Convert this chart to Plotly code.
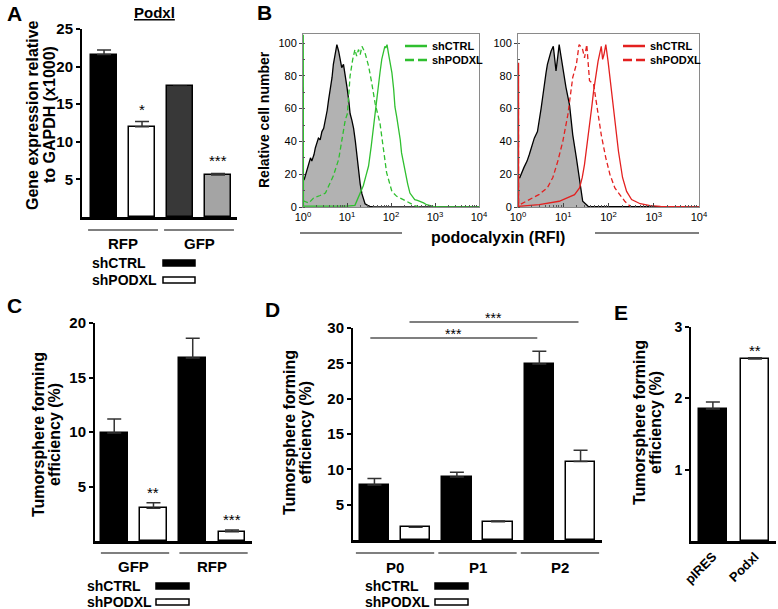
import numpy as np
import plotly.graph_objects as go

W, H = 778, 609
FONT = "Liberation Sans"

# ---------------- Panel A data ----------------
a_groups = ["RFP", "GFP"]
a_values = [21.6, 12.0, 17.4, 5.6]
a_err_top = [22.2, 12.7, 17.4, 5.8]
a_colors = ["#000000", "#ffffff", "#383838", "#a4a4a4"]
a_stars = ["", "*", "", "***"]
a_yticks = [5, 10, 15, 20, 25]

# ---------------- Panel B data (log10 RFI, relative cell number) ----------------
bl_iso_log = [0.0, 0.005, 0.03, 0.08, 0.13, 0.17, 0.2, 0.25, 0.28, 0.32, 0.35, 0.39, 0.43, 0.47,
              0.51, 0.55, 0.58, 0.62, 0.66, 0.69, 0.73, 0.77, 0.81, 0.85, 0.88, 0.92, 0.96, 1.0,
              1.04, 1.07, 1.11, 1.15, 1.19, 1.23, 1.26, 1.3, 1.34, 1.38, 1.41, 1.47, 1.52, 1.6, 4.0]
bl_iso_val = [73, 16, 17, 22, 27, 30, 28, 32, 36, 39, 42, 41, 46, 48,
              53, 59, 65, 71, 79, 87, 93, 99, 95, 89, 85, 87, 81, 73,
              65, 57, 53, 48, 40, 30, 22, 14, 8, 4, 2, 1, 0.4, 0, 0]
bl_ctrl_log = [0.006, 0.01, 0.5, 1.0, 1.18, 1.26, 1.32, 1.37, 1.43, 1.49, 1.55, 1.6, 1.64, 1.68,
               1.72, 1.75, 1.79, 1.83, 1.86, 1.88, 1.91, 1.94, 1.98, 2.02, 2.06, 2.09, 2.13, 2.17,
               2.21, 2.24, 2.28, 2.32, 2.38, 2.43, 2.49, 2.54, 2.6, 2.66, 2.74, 2.81, 2.9, 2.96, 3.1, 4.0]
bl_ctrl_val = [105, 0.5, 0.5, 0.5, 1, 6.5, 10, 13, 19, 25, 37, 49, 57, 65,
               74, 82, 90, 96, 98, 97, 99, 94, 88, 82, 72, 61, 55, 49,
               41, 33, 27, 21, 14, 8.5, 6, 4.5, 4, 3.5, 2.5, 1.4, 0.8, 0.4, 0, 0]
bl_kd_log = [0.01, 0.03, 0.13, 0.24, 0.39, 0.51, 0.58, 0.69, 0.81, 0.88, 0.96, 1.01, 1.07, 1.13,
             1.18, 1.22, 1.26, 1.3, 1.34, 1.41, 1.49, 1.56, 1.64, 1.75, 1.83, 1.9, 2.02, 2.13,
             2.28, 2.43, 2.54, 2.66]
bl_kd_val = [4, 3.5, 2.4, 5.5, 7, 8.5, 12.6, 19, 29, 41, 53, 57, 80, 90,
             96, 92, 96, 93, 98, 94, 86, 76, 63, 51, 35, 21, 9.5, 6.5,
             4.5, 2.4, 0.8, 0]

br_iso_log = [0.0, 0.04, 0.13, 0.2, 0.25, 0.3, 0.36, 0.43, 0.47, 0.51, 0.55, 0.58, 0.62, 0.65,
              0.69, 0.73, 0.78, 0.81, 0.84, 0.88, 0.91, 0.95, 0.99, 1.06, 1.14, 1.21, 1.29, 1.36,
              1.43, 1.55, 4.0]
br_iso_val = [18, 18, 24, 28, 32, 37, 42, 46, 52, 60, 68, 75, 82, 87,
              92, 95, 98, 90, 83, 92, 99, 92, 85, 73, 62, 44, 30, 16,
              3.5, 0.4, 0]
br_ctrl_log = [0.0, 0.47, 0.91, 1.1, 1.25, 1.36, 1.42, 1.47, 1.53, 1.58, 1.63, 1.67, 1.72, 1.77,
               1.84, 1.87, 1.9, 1.94, 1.99, 2.03, 2.07, 2.14, 2.22, 2.31, 2.4, 2.51, 2.7, 2.92, 3.15, 4.0]
br_ctrl_val = [0.4, 1.4, 3.5, 5.5, 7.5, 11.6, 18, 26, 38, 50, 61, 70.5, 80, 89,
               98, 90, 93, 99, 89, 80, 70, 54, 34, 18, 9.5, 4.5, 2, 0.8, 0.4, 0]
br_kd_log = [0.012, 0.012, 0.016, 0.04, 0.25, 0.47, 0.65, 0.77, 0.88, 0.99, 1.1, 1.16, 1.21, 1.29,
             1.35, 1.42, 1.47, 1.52, 1.58, 1.67, 1.75, 1.84, 1.94, 2.03, 2.14, 2.25, 2.36, 2.48]
br_kd_val = [0, 88, 2, 1.4, 4.5, 7.7, 11.8, 18, 28, 40, 56, 68, 79, 87,
             99, 97, 91, 99, 77, 75, 60, 44, 30, 20, 11.6, 7.5, 3.5, 0.4]

b_xtick_vals = [1, 10, 100, 1000, 10000]
b_xtick_text = ["10<sup>0</sup>", "10<sup>1</sup>", "10<sup>2</sup>", "10<sup>3</sup>", "10<sup>4</sup>"]
b_yticks = [0, 20, 40, 60, 80, 100]
b_series = ["shCTRL", "shPODXL"]

# ---------------- Panel C data ----------------
c_groups = ["GFP", "RFP"]
c_values = [9.9, 3.0, 16.8, 0.85]
c_err_top = [11.2, 3.5, 18.6, 1.0]
c_colors = ["#000000", "#ffffff", "#000000", "#ffffff"]
c_stars = ["", "**", "", "***"]
c_yticks = [5, 10, 15, 20]

# ---------------- Panel D data ----------------
d_groups = ["P0", "P1", "P2"]
d_values = [7.8, 1.8, 8.9, 2.6, 24.9, 11.1]
d_err_top = [8.7, 1.8, 9.6, 2.7, 26.7, 12.7]
d_colors = ["#000000", "#ffffff"] * 3
d_yticks = [5, 10, 15, 20, 25, 30]

# ---------------- Panel E data ----------------
e_labels = ["pIRES", "Podxl"]
e_values = [1.85, 2.55]
e_err_top = [1.95, 2.57]
e_colors = ["#000000", "#ffffff"]
e_stars = ["", "**"]
e_yticks = [1, 2, 3]

legend_names = ["shCTRL", "shPODXL"]

fig = go.Figure()
annotations = []
shapes = []


def xd(p0, p1):
    return [p0 / W, p1 / W]


def yd(top, bottom):
    return [1 - bottom / H, 1 - top / H]


def font(size, bold=True, color="black"):
    return dict(family=FONT, size=size, color=color, weight="bold" if bold else "normal")


def ann(text, x, y, size, bold=True, xanchor="center", yanchor="middle", angle=0,
        xref="paper", yref="paper", yshift=0):
    if xref == "paper":
        x = x / W
    if yref == "paper":
        y = 1 - y / H
    annotations.append(dict(text=text, x=x, y=y, xref=xref, yref=yref, showarrow=False,
                            xanchor=xanchor, yanchor=yanchor, textangle=angle, yshift=yshift,
                            font=font(size, bold)))


def hline(x0, x1, y, width=1.2, color="black", dash="solid", xref="paper"):
    if xref == "paper":
        x0, x1 = x0 / W, x1 / W
    shapes.append(dict(type="line", xref=xref, yref="paper", x0=x0, x1=x1,
                       y0=1 - y / H, y1=1 - y / H, line=dict(width=width, color=color, dash=dash)))


def rect(x0, x1, y0, y1, fill):
    shapes.append(dict(type="rect", xref="paper", yref="paper", x0=x0 / W, x1=x1 / W,
                       y0=1 - y1 / H, y1=1 - y0 / H, fillcolor=fill,
                       line=dict(color="black", width=1.5)))


def bars(xa, ya, values, err_top, colors, width):
    n = len(values)
    fig.add_trace(go.Bar(
        x=list(range(n)), y=values, width=width,
        marker=dict(color=colors, line=dict(color="black", width=1.5)),
        error_y=dict(type="data", symmetric=False,
                     array=[e - v for e, v in zip(err_top, values)], arrayminus=[0] * n,
                     color="#333333", thickness=1.5, width=7),
        xaxis=xa, yaxis=ya, showlegend=False, hoverinfo="skip"))


def stars(xref, yref, labels, err_top, size=15, yshift=1):
    for i, s in enumerate(labels):
        if s:
            ann(s, i, err_top[i], size, bold=False, yanchor="bottom", xref=xref, yref=yref,
                yshift=yshift)


def bar_axes(xdom, ydom, xr, yr, yticks, anchor_x, anchor_y, tick_size=15):
    xa = dict(domain=xdom, range=xr, showline=True, linewidth=3, linecolor="black",
              ticks="", showticklabels=False, showgrid=False, zeroline=False, anchor=anchor_y,
              fixedrange=True, automargin=False)
    ya = dict(domain=ydom, range=yr, showline=True, linewidth=2, linecolor="black",
              ticks="outside", ticklen=4, tickwidth=2, tickcolor="black", tickvals=yticks,
              tickfont=font(tick_size), showgrid=False, zeroline=False, anchor=anchor_x,
              fixedrange=True, automargin=False)
    return xa, ya


def groups(xref, names, y_line, y_label, lo=0.42, hi=1.42, size=15):
    for g, name in enumerate(names):
        hline(2 * g - lo, 2 * g + hi, y_line, width=1.2, xref=xref)
        ann(name, 2 * g + 0.5, y_label, size, xref=xref)


def legend_block(x_text, x_sw0, x_sw1, y1, y2, size=14):
    ann(legend_names[0], x_text, y1, size, xanchor="left")
    ann(legend_names[1], x_text, y2, size, xanchor="left")
    rect(x_sw0, x_sw1, y1 - 3, y1 + 3, "black")
    rect(x_sw0, x_sw1, y2 - 3, y2 + 3, "white")


# ================= Panel A =================
bars("x", "y", a_values, a_err_top, a_colors, 0.68)
stars("x", "y", a_stars, a_err_top, yshift=2)
xa_A, ya_A = bar_axes(xd(82, 237), yd(29, 217), [-0.58, 3.5], [0, 25], a_yticks, "x", "y")
groups("x", a_groups, 230, 244)
legend_block(90, 163, 195, 263, 280)
ann("A", 5, 14, 21, xanchor="left")
ann("<u>Podxl</u>", 154, 13, 15)
ann("Gene expression relative", 32, 115, 16, angle=-90)
ann("to GAPDH (x1000)", 49, 115, 16, angle=-90)

# ================= Panel B =================
GREEN = "#2fbf2f"
RED = "#e3201f"
GRAY_FILL = "#b2b2b2"
CURVE_DASH = "5px,3px"


def hist(xa, ya, logs, vals, color, dash="solid", fill=False):
    fig.add_trace(go.Scatter(
        x=10 ** np.array(logs), y=vals, mode="lines",
        line=dict(color=color, width=1.3, dash=dash),
        fill="tozeroy" if fill else None, fillcolor=GRAY_FILL if fill else None,
        xaxis=xa, yaxis=ya, showlegend=False, hoverinfo="skip"))


hist("x2", "y2", bl_iso_log, bl_iso_val, "black", fill=True)
hist("x2", "y2", bl_kd_log, bl_kd_val, GREEN, dash=CURVE_DASH)
hist("x2", "y2", bl_ctrl_log, bl_ctrl_val, GREEN)
hist("x3", "y3", br_iso_log, br_iso_val, "black", fill=True)
hist("x3", "y3", br_kd_log, br_kd_val, RED, dash=CURVE_DASH)
hist("x3", "y3", br_ctrl_log, br_ctrl_val, RED)

minor_x = [k * 10 ** d for d in range(4) for k in range(2, 10)]


def b_axes(xdom, anchor_x, anchor_y):
    xa = dict(domain=xdom, type="log", range=[0, 4], showline=True, mirror=True,
              linecolor="#8a8a8a", linewidth=1, tickvals=b_xtick_vals, ticktext=b_xtick_text,
              ticks="inside", ticklen=4, tickcolor="#444", tickfont=font(11, False),
              minor=dict(tickvals=minor_x, ticks="inside", ticklen=2, tickcolor="#555"),
              showgrid=False, zeroline=False, anchor=anchor_y, fixedrange=True, automargin=False)
    ya = dict(domain=yd(34, 207), range=[0, 105.5], showline=True, mirror=True,
              linecolor="#8a8a8a", linewidth=1, tickvals=b_yticks, ticks="outside", ticklen=3,
              tickcolor="#444", tickfont=font(11, False),
              minor=dict(dtick=10, ticks="inside", ticklen=2, tickcolor="#555"),
              showgrid=False, zeroline=False, anchor=anchor_x, fixedrange=True, automargin=False)
    return xa, ya


xa_B1, ya_B1 = b_axes(xd(303, 479), "x2", "y2")
xa_B2, ya_B2 = b_axes(xd(518, 699), "x3", "y3")

ann("B", 255, 13, 21, xanchor="left")
ann("Relative cell number", 264, 120, 14, angle=-90)
ann("podocalyxin (RFI)", 498, 237, 16)
hline(300, 402, 233, width=1.2)
hline(595, 699, 233, width=1.2)
# legends
for (x0, x1, xt, col) in [(405, 427, 430, GREEN), (623, 645, 648, RED)]:
    hline(x0, x1, 46, width=2.5, color=col)
    hline(x0, x1, 60, width=2.5, color=col, dash="9px,4px")
    ann(b_series[0], xt, 46, 11, xanchor="left")
    ann(b_series[1], xt, 60, 11, xanchor="left")

# ================= Panel C =================
bars("x4", "y4", c_values, c_err_top, c_colors, 0.68)
stars("x4", "y4", c_stars, c_err_top, yshift=0)
xa_C, ya_C = bar_axes(xd(95, 252), yd(323, 541), [-0.49, 3.51], [0, 20], c_yticks, "x4", "y4")
groups("x4", c_groups, 553, 566, lo=0.34, hi=1.4)
legend_block(85, 156, 189, 586, 602)
ann("C", 5, 305, 21, xanchor="left")
ann("Tumorsphere forming", 38, 435, 16, angle=-90)
ann("efficiency (%)", 54, 435, 16, angle=-90)

# ================= Panel D =================
bars("x5", "y5", d_values, d_err_top, d_colors, 0.715)
xa_D, ya_D = bar_axes(xd(353, 602), yd(328, 540), [-0.52, 5.52], [0, 30], d_yticks, "x5", "y5")
groups("x5", d_groups, 553, 567, lo=0.45, hi=1.45)
legend_block(363, 435, 468, 586, 602)
ann("D", 263, 309, 21, xanchor="left")
ann("Tumorsphere forming", 289, 433, 16, angle=-90)
ann("efficiency (%)", 305, 433, 16, angle=-90)
# significance brackets (P0 vs P2)
hline(-0.1, 3.95, 338, width=1.2, xref="x5")
hline(0.85, 4.95, 322, width=1.2, xref="x5")
ann("***", 453, 334, 14, bold=False)
ann("***", 493, 318, 14, bold=False)

# ================= Panel E =================
bars("x6", "y6", e_values, e_err_top, e_colors, 0.667)
stars("x6", "y6", e_stars, e_err_top, yshift=-3)
xa_E, ya_E = bar_axes(xd(691, 776), yd(327, 541), [-0.52, 1.5], [0, 3], e_yticks, "x6", "y6",
                      tick_size=14)
xa_E.update(showticklabels=True, tickvals=[0, 1], ticktext=e_labels, tickangle=-45,
            tickfont=font(13))
ann("E", 612, 312, 21, xanchor="left")
ann("Tumorsphere forming", 639, 423, 16, angle=-90)
ann("efficiency (%)", 655, 423, 16, angle=-90)

fig.update_layout(
    template="none",
    width=W, height=H, margin=dict(l=0, r=0, t=0, b=0, pad=0, autoexpand=False),
    paper_bgcolor="white", plot_bgcolor="white", showlegend=False,
    bargap=0, font=font(12),
    xaxis=xa_A, yaxis=ya_A,
    xaxis2=xa_B1, yaxis2=ya_B1,
    xaxis3=xa_B2, yaxis3=ya_B2,
    xaxis4=xa_C, yaxis4=ya_C,
    xaxis5=xa_D, yaxis5=ya_D,
    xaxis6=xa_E, yaxis6=ya_E,
    annotations=annotations, shapes=shapes,
)

# remove the default page margin so the 778x609 figure fills the window exactly
fig.write_html("out.html", config={"displayModeBar": False},
               post_script="document.body.style.margin='0px';document.body.style.overflow='hidden';")
